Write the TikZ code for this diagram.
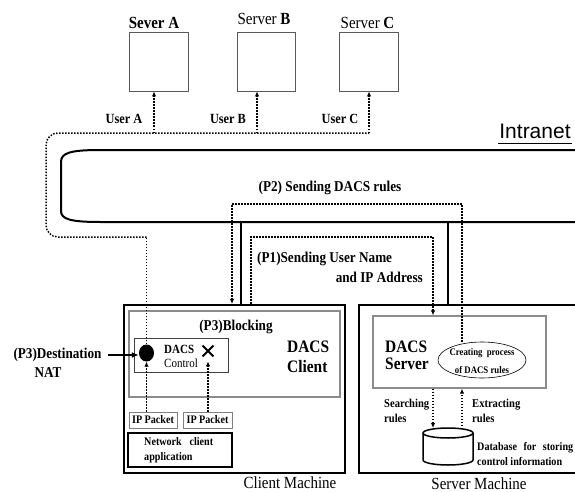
\documentclass[tikz,border=0pt]{standalone}
\usepackage{fontspec}
\setmainfont[FakeStretch=0.88]{Liberation Serif}
\newfontfamily\sansf{Liberation Sans}
\usetikzlibrary{arrows.meta,shapes.geometric,shapes.misc}
\newcommand\fsz[2]{\fontsize{#1}{#2}\selectfont}
\begin{document}
\begin{tikzpicture}[x=1pt,y=-1pt,
  lbl/.style={inner sep=0pt, font=\bfseries\fsz{15}{17}},
  srvbox/.style={draw=black!65, line width=0.9pt, inner sep=0pt},
  machine/.style={draw=black, line width=2.2pt, inner sep=0pt},
  inbox/.style={draw=black!45, line width=1.3pt, inner sep=0pt},
  ctrlbox/.style={draw=black!75, line width=0.8pt, inner sep=0pt},
  pkt/.style={draw=black!50, line width=1pt, inner sep=0pt, font=\bfseries\fsz{11.5}{13}},
  appbox/.style={draw=black, line width=2.4pt, inner sep=0pt},
  dotline/.style={line width=1.5pt, dash pattern=on 1.5pt off 1.5pt},
  dotarrow/.style={dotline, -{Latex[length=5pt,width=4.5pt]}},
  solidarrow/.style={line width=2pt, -{Latex[length=7pt,width=6pt]}},
  cloudline/.style={line width=2pt},
  conn/.style={line width=1.8pt},
  dbline/.style={line width=1.5pt}
]
\useasboundingbox (0,0) rectangle (575,492);
\clip (0,0) rectangle (575,492);

% servers
\node[srvbox, minimum width=59pt, minimum height=59pt] (sa) at (158.5,61.5) {};
\node[srvbox, minimum width=58pt, minimum height=59pt] (sb) at (266,61.5) {};
\node[srvbox, minimum width=59pt, minimum height=59pt] (sc) at (368.5,61.5) {};
\node[lbl, font=\bfseries\fsz{17}{20}] (sal) at (154,22.5) {Sever A};
\node[lbl, font=\fsz{17}{20}] (sbl) at (264,19) {Server \textbf{B}};
\node[lbl, font=\fsz{17}{20}] (scl) at (367.5,22.5) {Server \textbf{C}};

% user labels
\node[lbl, font=\bfseries\fsz{14}{16}] (ual) at (124,119) {User A};
\node[lbl, font=\bfseries\fsz{14}{16}] (ubl) at (228,119) {User B};
\node[lbl, font=\bfseries\fsz{14}{16}] (ucl) at (340,119) {User C};

% intranet cloud
\draw[cloudline] (580,150) -- (100,150) .. controls (70,150) and (61,153) .. (61,162)
  -- (61,211) .. controls (61,219) and (70,222) .. (100,222) -- (580,222);
\node[font=\sansf\fsz{21}{24}, inner sep=0pt, anchor=base] (intr) at (535,139) {Intranet};
\coordinate (ul1) at (498,143.5);
\coordinate (ul2) at (572,143.5);
\draw[line width=1.8pt] (ul1) -- (ul2);

% machines
\node[machine, minimum width=221pt, minimum height=168pt] (cm) at (234.5,389) {};
\node[machine, minimum width=240pt, minimum height=168pt] (sm) at (479,389) {};
\coordinate (v1) at (241,221);
\coordinate (v2) at (448,221);
\draw[conn] (v1) -- (v1 |- cm.north);
\draw[conn] (v2) -- (v2 |- sm.north);

% client inner
\node[inbox, minimum width=211pt, minimum height=86pt] (ci) at (234.5,354) {};
\node[lbl] (blk) at (236,327) {(P3)Blocking};
\node[lbl, font=\bfseries\fsz{17.5}{20}, align=left, anchor=west] (dcl) at (287,357) {DACS\\Client};
\node[ctrlbox, minimum width=94pt, minimum height=34pt] (dc) at (181,355) {};
\node[fill=black, ellipse, minimum width=15pt, minimum height=17pt, inner sep=0pt] (dot) at (146.5,353) {};
\node[font=\fsz{12.5}{14}, align=left, anchor=west, inner sep=0pt] (dct) at (164,356) {\textbf{DACS}\\Control};
\node[cross out, draw=black, line width=1.8pt, minimum size=9pt, inner sep=0pt] (xx) at (208,351) {};

% packets and app
\node[pkt, minimum width=48pt, minimum height=16pt] (ip1) at (153,420) {IP Packet};
\node[pkt, minimum width=49pt, minimum height=16pt] (ip2) at (207.5,420) {IP Packet};
\draw[dotarrow] (ip1.north -| dot.south) -- (dot.south);
\draw[dotarrow, shorten >=5pt] (ip2.north -| xx.south) -- (xx.south);
\node[appbox, minimum width=104pt, minimum height=34pt] (app) at (180,450) {};
\node[lbl, font=\bfseries\fsz{11.5}{15}, align=left, anchor=west] (appt) at (144,450) {\makebox[69pt][s]{Network client}\\application};

% P3 destination NAT
\node[lbl] (p3d) at (57.5,355) {(P3)Destination};
\node[lbl] (nat) at (48,373) {NAT};
\draw[solidarrow] ([xshift=6pt]p3d.east) -- (p3d.east -| dot.west);

% user route
\coordinate (ua) at (154,133);
\coordinate (ub) at (257,133);
\coordinate (uc) at (369,133);
\coordinate (dr) at (146.5,237);
\draw[dotline] (dot.north) -- (dr);
\draw[dotline, rounded corners=12pt] (dr) -- (46,237) -- (46,133) -- (uc);
\draw[dotarrow] (uc) -- (uc |- sc.south);
\draw[dotarrow] (ua) -- (ua |- sa.south);
\draw[dotarrow] (ub) -- (ub |- sb.south);

% server inner
\node[inbox, minimum width=173pt, minimum height=72pt] (ds) at (459.5,352) {};
\node[lbl, font=\bfseries\fsz{17.5}{17.5}, align=left, anchor=west] (dsl) at (385,355.5) {DACS\\Server};
\node[draw=black, ellipse, minimum width=88pt, minimum height=36pt, inner sep=0pt, line width=0.6pt] (cp) at (482,360) {};
\node[lbl, font=\bfseries\fsz{10}{18}, align=center] (cpt) at (482,361) {\makebox[65pt][s]{Creating process}\\of DACS rules};

% P1 and P2
\coordinate (p1a) at (251,237);
\coordinate (p1b) at (433,237);
\draw[dotarrow] (p1a |- cm.north) -- (p1a) -- (p1b) -- (p1b |- ds.north);
\node[lbl, anchor=west] (p1l) at (257,259) {(P1)Sending User Name};
\node[lbl, anchor=east] (p1m) at (423,277) {and IP Address};

\coordinate (p2a) at (232,204);
\coordinate (p2b) at (462,204);
\draw[dotarrow] (cp.north -| p2b) -- (p2b) -- (p2a) -- (p2a |- cm.north);
\node[lbl] (p2l) at (330,188) {(P2) Sending DACS rules};

% database
\node[inner sep=0pt, minimum width=50pt, minimum height=37pt] (db) at (448,446.5) {};
\draw[dbline] (448,433) ellipse [x radius=25pt, y radius=5pt];
\draw[dbline] (423,433) -- (423,460) arc[start angle=180, end angle=360, x radius=25pt, y radius=5pt] -- (473,433);
\coordinate (sx) at (433,428);
\coordinate (ex) at (462,429);
\draw[dotarrow] (sx |- ds.south) -- (sx);
\draw[dotarrow] (ex) -- (ex |- ds.south);
\node[lbl, font=\bfseries\fsz{12}{15}, align=left, anchor=west] (srl) at (384,410.5) {Searching\\rules};
\node[lbl, font=\bfseries\fsz{12}{15}, align=left, anchor=west] (exl) at (472,410.5) {Extracting\\rules};
\node[lbl, font=\bfseries\fsz{11.5}{15}, align=left, anchor=west] (dbl) at (477,454.5) {\makebox[96pt][s]{Database for storing}\\control information};

% machine labels
\node[font=\fsz{17}{20}, inner sep=0pt] (cml) at (290,483) {Client Machine};
\node[font=\fsz{17}{20}, inner sep=0pt] (sml) at (479,484) {Server Machine};
\end{tikzpicture}
\end{document}
